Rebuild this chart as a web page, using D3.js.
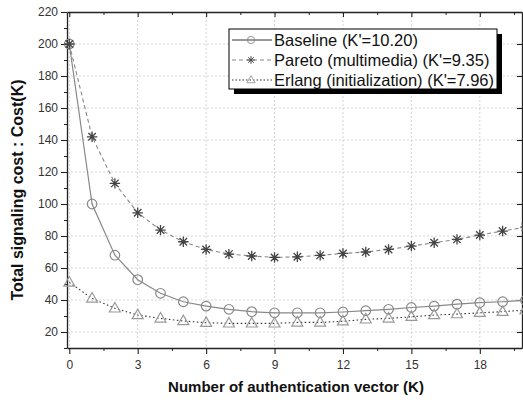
<!DOCTYPE html>
<html>
<head>
<meta charset="utf-8">
<script src="https://cdn.jsdelivr.net/npm/d3@7"></script>
<style>
  html, body { margin: 0; padding: 0; background: #fff; overflow: hidden; }
  svg { display: block; }
</style>
</head>
<body>
<svg id="chart" width="523" height="402"></svg>
<script>
// Number of authentication vectors K
const kValues = [0,1,2,3,4,5,6,7,8,9,10,11,12,13,14,15,16,17,18,19,20];

// Total signaling cost per scheme
const baseline = [200,100,68,52.7,44.2,38.9,36.2,34.2,32.7,32,32,32,32.5,33.3,34.2,35.3,36.2,37.4,38.3,38.9,39.8];
const pareto   = [200,142,112.9,94.5,83.7,76.4,71.6,68.7,67.5,66.6,67,67.9,69.1,70,71.6,73.7,75.8,77.9,80.6,83.1,85.5];
const erlang   = [51,41,34.8,30.6,28.5,26.9,25.8,25.4,25.4,25.4,26,26,26.7,27.9,28.5,29.5,30.6,31.2,32,32.7,33.7];

const legendLabels = ["Baseline (K'=10.20)", "Pareto (multimedia) (K'=9.35)", "Erlang (initialization) (K'=7.96)"];

const xTicks = [0,3,6,9,12,15,18];
const xMinorTicks = [1.5,4.5,7.5,10.5,13.5,16.5,19.5];
const yTicks = [20,40,60,80,100,120,140,160,180,200,220];
const yMinorTicks = [10,30,50,70,90,110,130,150,170,190,210];

const svg = d3.select("#chart");
const plotLeft = 67, plotRight = 522, plotTop = 12, plotBottom = 348;

const x = d3.scaleLinear().domain([-0.1, 19.85]).range([plotLeft, plotRight]);
const y = d3.scaleLinear().domain([10, 220]).range([plotBottom, plotTop]);

const font = "Arial, 'Liberation Sans', sans-serif";

// grid
const grid = svg.append("g").attr("stroke", "#c8c8c8").attr("stroke-width", 0.8).attr("stroke-dasharray", "2,2");
grid.selectAll(".gx").data(xTicks).join("line")
  .attr("x1", d => x(d)).attr("x2", d => x(d)).attr("y1", plotTop).attr("y2", plotBottom);
grid.selectAll(".gy").data(yTicks.filter(d => d < 220)).join("line")
  .attr("x1", plotLeft).attr("x2", plotRight).attr("y1", d => y(d)).attr("y2", d => y(d));

// axes
function styleAxis(g) {
  g.select(".domain").attr("stroke", "#222").attr("stroke-width", 1.3);
  g.selectAll(".tick line").attr("stroke", "#222").attr("stroke-width", 1.1);
  g.selectAll(".tick text").attr("fill", "#333").style("font-family", font).style("font-size", "12px");
}
function minor(g) {
  g.select(".domain").remove();
  g.selectAll("line").attr("stroke", "#222");
}
const xAxis = svg.append("g").attr("transform", `translate(0,${plotBottom})`)
  .call(d3.axisBottom(x).tickValues(xTicks).tickSize(6).tickPadding(6).tickSizeOuter(0));
styleAxis(xAxis);
svg.append("g").attr("transform", `translate(0,${plotBottom})`)
  .call(d3.axisBottom(x).tickValues(xMinorTicks).tickSize(3).tickFormat("").tickSizeOuter(0))
  .call(minor);

const xTop = svg.append("g").attr("transform", `translate(0,${plotTop})`)
  .call(d3.axisBottom(x).tickValues(xTicks).tickSize(5).tickFormat("").tickSizeOuter(0));
styleAxis(xTop);
svg.append("g").attr("transform", `translate(0,${plotTop})`)
  .call(d3.axisBottom(x).tickValues(xMinorTicks).tickSize(3).tickFormat("").tickSizeOuter(0))
  .call(minor);

const yAxis = svg.append("g").attr("transform", `translate(${plotLeft},0)`)
  .call(d3.axisLeft(y).tickValues(yTicks).tickSize(6).tickPadding(3).tickSizeOuter(0));
styleAxis(yAxis);
svg.append("g").attr("transform", `translate(${plotLeft},0)`)
  .call(d3.axisLeft(y).tickValues(yMinorTicks).tickSize(3).tickFormat("").tickSizeOuter(0))
  .call(minor);

const yRight = svg.append("g").attr("transform", `translate(${plotRight},0)`)
  .call(d3.axisLeft(y).tickValues(yTicks).tickSize(5).tickFormat("").tickSizeOuter(0));
styleAxis(yRight);
yRight.selectAll(".tick line").attr("x2", -5);

// axis titles
svg.append("text").attr("x", 296).attr("y", 392).attr("text-anchor", "middle")
  .style("font-family", font).style("font-size", "15px").style("font-weight", "bold").attr("fill", "#111")
  .text("Number of authentication vector (K)");
svg.append("text").attr("transform", "translate(22.5,190) rotate(-90)").attr("text-anchor", "middle")
  .style("font-family", font).style("font-size", "16px").style("font-weight", "bold").attr("fill", "#111")
  .text("Total signaling cost : Cost(K)");

// series
const seriesList = [
  { values: baseline, line: "#888", dash: null, width: 1.2, marker: "circle", mcolor: "#888" },
  { values: pareto,   line: "#888", dash: "4,3", width: 1.1, marker: "star", mcolor: "#444" },
  { values: erlang,   line: "#333", dash: "1.5,2.5", width: 1.1, marker: "triangle", mcolor: "#999" }
];

const lineGen = d3.line().x((d, i) => x(kValues[i])).y(d => y(d));

function drawMarker(g, type, color) {
  if (type === "circle") {
    g.append("circle").attr("r", 4.8).attr("fill", "none").attr("stroke", color).attr("stroke-width", 1.2);
  } else if (type === "star") {
    const r = 5.2, a = r * 0.72;
    const dStr = `M0,${-r}L0,${r}M${-r},0L${r},0M${-a},${-a}L${a},${a}M${-a},${a}L${a},${-a}`;
    g.append("path").attr("d", dStr).attr("stroke", color).attr("stroke-width", 1.3).attr("fill", "none");
  } else {
    g.append("path").attr("d", d3.symbol(d3.symbolTriangle, 52)()).attr("transform", "translate(0,0.5)")
      .attr("fill", "none").attr("stroke", color).attr("stroke-width", 1.2);
  }
}

seriesList.forEach(s => {
  svg.append("path").datum(s.values).attr("d", lineGen)
    .attr("fill", "none").attr("stroke", s.line).attr("stroke-width", s.width)
    .attr("stroke-dasharray", s.dash);
  s.values.forEach((v, i) => {
    const g = svg.append("g").attr("transform", `translate(${x(kValues[i])},${y(v)})`);
    drawMarker(g, s.marker, s.mcolor);
  });
});

// legend
const lg = svg.append("g");
const lx = 229, ly = 29, lw = 268, lh = 60;
lg.append("rect").attr("x", lx + 5).attr("y", ly + 5).attr("width", lw).attr("height", lh).attr("fill", "#000");
lg.append("rect").attr("x", lx).attr("y", ly).attr("width", lw).attr("height", lh)
  .attr("fill", "#fff").attr("stroke", "#000").attr("stroke-width", 1);
legendLabels.forEach((label, i) => {
  const s = seriesList[i];
  const cy = ly + 11 + i * 20;
  lg.append("line").attr("x1", lx + 3).attr("x2", lx + 43).attr("y1", cy).attr("y2", cy)
    .attr("stroke", i === 0 ? "#333" : s.line).attr("stroke-width", 1)
    .attr("stroke-dasharray", i === 1 ? "4,3" : (i === 2 ? "1.5,2" : null));
  const m = lg.append("g").attr("transform", `translate(${lx + 22},${cy}) scale(0.75)`);
  drawMarker(m, s.marker, s.mcolor);
  lg.append("text").attr("x", lx + 45).attr("y", cy + 6)
    .style("font-family", font).style("font-size", "16.5px").attr("fill", "#111")
    .text(label);
});
</script>
</body>
</html>
